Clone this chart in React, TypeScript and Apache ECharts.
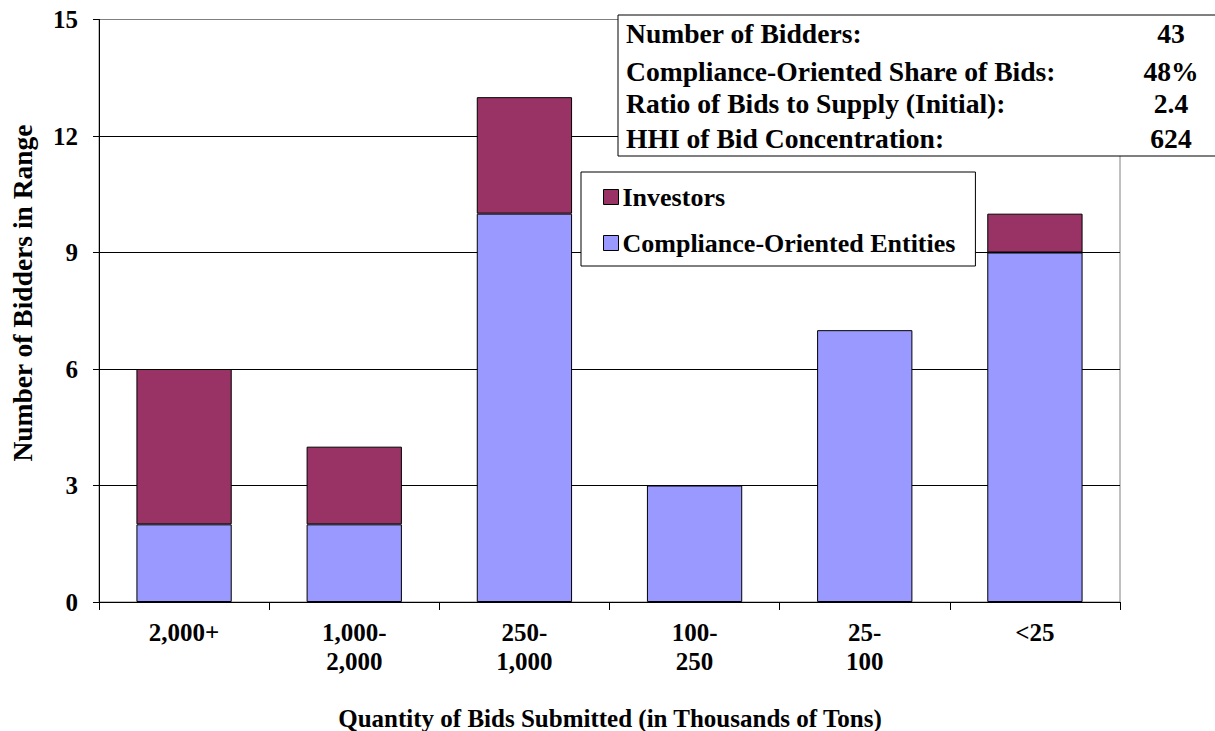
import React, { useEffect, useRef } from "react";
import * as echarts from "echarts";

const categories = ["2,000+", "1,000-\n2,000", "250-\n1,000", "100-\n250", "25-\n100", "<25"];
const complianceValues = [2, 2, 10, 3, 7, 9];
const investorValues = [4, 2, 3, 0, 0, 1];
const yTicks = { min: 0, max: 15, interval: 3 };
const statsLabels = [
  "Number of Bidders:",
  "Compliance-Oriented Share of Bids:",
  "Ratio of Bids to Supply (Initial):",
  "HHI of Bid Concentration:",
];
const statsValues = ["43", "48%", "2.4", "624"];
const seriesNames = ["Investors", "Compliance-Oriented Entities"];
const xTitle = "Quantity of Bids Submitted (in Thousands of Tons)";
const yTitle = "Number of Bidders in Range";

const FONT = "Liberation Serif";

export default function App() {
  const ref = useRef<HTMLDivElement>(null);
  useEffect(() => {
    if (!ref.current) return;
    const chart = echarts.init(ref.current, undefined, { renderer: "svg" });
    const rowY = [33, 71, 103, 138];
    const statsChildren: any[] = [
      {
        type: "rect",
        z: 30,
        shape: { x: 618, y: 15, width: 640, height: 141 },
        style: { fill: "#fff", stroke: "#000", lineWidth: 1 },
      },
    ];
    statsLabels.forEach((t, i) => {
      statsChildren.push({
        type: "text",
        z: 31,
        x: 626,
        y: rowY[i],
        style: {
          text: t,
          fontFamily: FONT,
          fontWeight: "bold",
          fontSize: 27.6,
          fill: "#000",
          align: "left",
          verticalAlign: "middle",
        },
      });
      statsChildren.push({
        type: "text",
        z: 31,
        x: 1171,
        y: rowY[i],
        style: {
          text: statsValues[i],
          fontFamily: FONT,
          fontWeight: "bold",
          fontSize: 27.6,
          fill: "#000",
          align: "center",
          verticalAlign: "middle",
        },
      });
    });
    chart.setOption({
      animation: false,
      backgroundColor: "#fff",
      textStyle: { fontFamily: FONT },
      grid: {
        left: 99,
        right: 95,
        top: 19.5,
        bottom: 129,
        show: true,
        borderColor: "#808080",
        borderWidth: 1,
        containLabel: false,
        outerBoundsMode: "none",
      },
      legend: {
        data: seriesNames,
        orient: "vertical",
        left: 581,
        top: 172,
        padding: [11, 20, 9, 22],
        itemGap: 18,
        itemWidth: 15,
        itemHeight: 15,
        itemStyle: { borderColor: "#000", borderWidth: 1 },
        backgroundColor: "#fff",
        borderColor: "#000",
        borderWidth: 1,
        icon: "rect",
        textStyle: {
          fontFamily: FONT,
          fontWeight: "bold",
          fontSize: 26,
          lineHeight: 28,
          color: "#000",
          padding: [0, 0, 0, -1],
        },
        z: 20,
      },
      xAxis: {
        type: "category",
        data: categories,
        axisLine: { show: true, lineStyle: { color: "#000", width: 1 } },
        axisTick: { show: true, alignWithLabel: false, length: 8, lineStyle: { color: "#000" } },
        axisLabel: {
          fontFamily: FONT,
          fontWeight: "bold",
          fontSize: 25,
          lineHeight: 29,
          color: "#000",
          margin: 16,
          interval: 0,
        },
        splitLine: { show: false },
      },
      yAxis: {
        type: "value",
        min: yTicks.min,
        max: yTicks.max,
        interval: yTicks.interval,
        axisLine: { show: true, lineStyle: { color: "#000", width: 1 } },
        axisTick: { show: true, length: 6, lineStyle: { color: "#000" } },
        axisLabel: {
          fontFamily: FONT,
          fontWeight: "bold",
          fontSize: 25,
          color: "#000",
          margin: 21,
        },
        splitLine: {
          show: true,
          lineStyle: {
            color: ["#000", "#000", "#000", "#000", "#000", "#808080"],
            width: 1,
          },
        },
      },
      series: [
        {
          name: seriesNames[1],
          type: "bar",
          stack: "total",
          data: complianceValues,
          barCategoryGap: "44%",
          itemStyle: { color: "#9999FF", borderColor: "#000", borderWidth: 1 },
        },
        {
          name: seriesNames[0],
          type: "bar",
          stack: "total",
          data: investorValues.map((v) => (v === 0 ? "-" : v)),
          barCategoryGap: "44%",
          itemStyle: { color: "#993366", borderColor: "#000", borderWidth: 1 },
        },
      ],
      graphic: [
        { type: "group", z: 30, children: statsChildren },
        {
          type: "text",
          x: 610,
          y: 718,
          style: {
            text: xTitle,
            fontFamily: FONT,
            fontWeight: "bold",
            fontSize: 25,
            fill: "#000",
            align: "center",
            verticalAlign: "middle",
          },
        },
        {
          type: "text",
          x: 22,
          y: 293,
          rotation: Math.PI / 2,
          style: {
            text: yTitle,
            fontFamily: FONT,
            fontWeight: "bold",
            fontSize: 27.5,
            fill: "#000",
            align: "center",
            verticalAlign: "middle",
          },
        },
      ],
    });
    return () => chart.dispose();
  }, []);
  return (
    <div
      ref={ref}
      style={{ position: "fixed", left: 0, top: 0, width: 1215, height: 731, background: "#fff" }}
    />
  );
}
